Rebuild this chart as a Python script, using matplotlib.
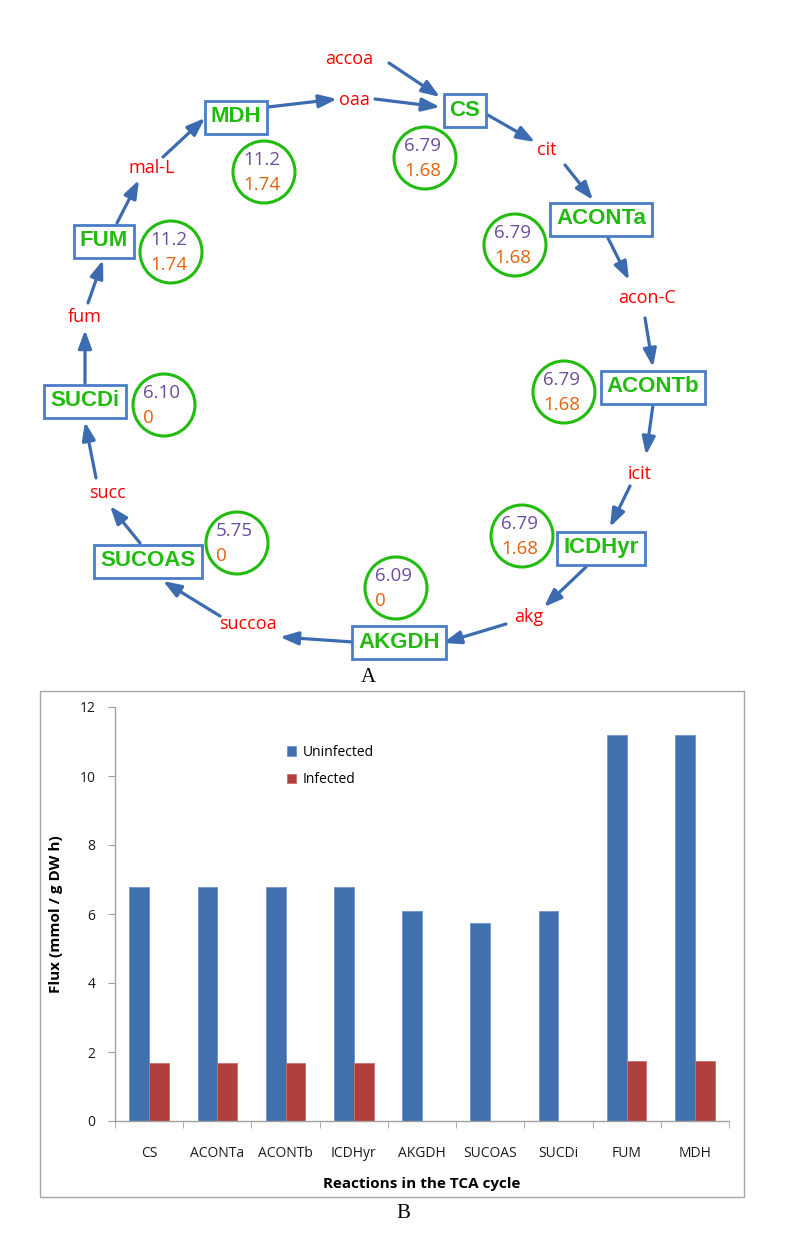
import matplotlib
matplotlib.use('Agg')
import matplotlib.pyplot as plt
from matplotlib.patches import Circle, Rectangle
import numpy as np

# ---------------- data ----------------
reactions = ['CS', 'ACONTa', 'ACONTb', 'ICDHyr', 'AKGDH', 'SUCOAS', 'SUCDi', 'FUM', 'MDH']
uninfected = [6.79, 6.79, 6.79, 6.79, 6.09, 5.75, 6.10, 11.2, 11.2]
infected = [1.68, 1.68, 1.68, 1.68, 0, 0, 0, 1.74, 1.74]
series_names = ['Uninfected', 'Infected']
yticks = [0, 2, 4, 6, 8, 10, 12]
metabolites = ['accoa', 'oaa', 'cit', 'acon-C', 'icit', 'akg', 'succoa', 'succ', 'fum', 'mal-L']

# ---------------- layout (pixel coordinates of the diagram) ----------------
box_pos = {'CS': (465, 110), 'ACONTa': (601, 219), 'ACONTb': (653, 387), 'ICDHyr': (601, 548),
           'AKGDH': (399, 642), 'SUCOAS': (148, 561), 'SUCDi': (85, 401), 'FUM': (104, 241),
           'MDH': (236, 117)}
circle_pos = {'CS': (425, 158), 'ACONTa': (515, 245), 'ACONTb': (564, 392), 'ICDHyr': (522, 536),
              'AKGDH': (396, 588), 'SUCOAS': (237, 543), 'SUCDi': (164, 405), 'FUM': (171, 252),
              'MDH': (264, 172)}
met_pos = {'accoa': (349, 59), 'oaa': (354, 100), 'cit': (547, 150), 'acon-C': (647, 298),
           'icit': (640, 474), 'akg': (529, 617), 'succoa': (248, 624), 'succ': (108, 493),
           'fum': (85, 317), 'mal-L': (152, 168)}
arrow_segs = [((389, 63), (440, 97)), ((375, 99), (440, 107)), ((486, 114), (535, 142)),
              ((565, 165), (593, 200)), ((608, 238), (629, 280)), ((645, 318), (653, 367)),
              ((653, 405), (646, 455)), ((630, 486), (610, 527)), ((586, 567), (544, 607)),
              ((506, 624), (443, 643)), ((353, 642), (280, 637)), ((220, 616), (163, 581)),
              ((140, 543), (110, 506)), ((96, 478), (85, 422)), ((85, 383), (85, 330)),
              ((88, 303), (103, 260)), ((117, 223), (139, 180)), ((163, 157), (205, 118)),
              ((268, 107), (337, 99))]

W, H = 792, 1260
fig = plt.figure(figsize=(W / 100, H / 100), dpi=100)
fig.patch.set_facecolor('white')

BLUE_BOX = '#4A7CC7'
ARROW = '#3D6BB0'
GREEN = '#22BB10'
PURPLE = '#6A4F9C'
ORANGE = '#E2630F'
RED = '#FF0000'
SANS = ['Open Sans', 'DejaVu Sans']

# ---------------- diagram ----------------
dax = fig.add_axes([0, 0, 1, 1])
dax.set_xlim(0, W)
dax.set_ylim(H, 0)
dax.axis('off')


def fmt_u(v):
    return f"{v:.1f}" if v >= 10 else f"{v:.2f}"


def fmt_i(v):
    return "0" if v == 0 else f"{v:.2f}"


for (x0, y0), (x1, y1) in arrow_segs:
    dax.annotate('', xy=(x1, y1), xytext=(x0, y0),
                 arrowprops=dict(arrowstyle='-|>,head_length=0.6,head_width=0.22',
                                 color=ARROW, lw=2.3, mutation_scale=18,
                                 shrinkA=0, shrinkB=0))

for name in metabolites:
    x, y = met_pos[name]
    dax.text(x, y, name, color=RED, fontsize=13, family=SANS, ha='center', va='center')

for i, r in enumerate(reactions):
    bx, by = box_pos[r]
    dax.text(bx, by, r, color=GREEN, fontsize=16, fontweight='bold',
             family=['Liberation Sans', 'DejaVu Sans'], ha='center', va='center',
             bbox=dict(boxstyle='square,pad=0.27', fc='white', ec=BLUE_BOX, lw=2.0))
    cx, cy = circle_pos[r]
    dax.add_patch(Circle((cx, cy), 31, fill=False, ec=GREEN, lw=2.2))
    dax.text(cx - 21, cy - 12, fmt_u(uninfected[i]), color=PURPLE, fontsize=13.5,
             family=SANS, ha='left', va='center')
    dax.text(cx - 21, cy + 13, fmt_i(infected[i]), color=ORANGE, fontsize=13.5,
             family=SANS, ha='left', va='center')

dax.text(368, 678, 'A', fontsize=15, family=['Liberation Serif', 'DejaVu Serif'],
         ha='center', va='center')
dax.text(403, 1213, 'B', fontsize=15, family=['Liberation Serif', 'DejaVu Serif'],
         ha='center', va='center')

# outer chart frame
dax.add_patch(Rectangle((40, 691), 704, 506, fill=False, ec='#A6A6A6', lw=1.0))

# ---------------- bar chart ----------------
ax = fig.add_axes([115 / W, 1 - 1121 / H, (729 - 115) / W, (1121 - 707) / H])
x = np.arange(len(reactions))
bw = 0.29
ax.bar(x - bw / 2, uninfected, bw, color='#4170AF', edgecolor='#6F93C8', lw=0.6,
       label=series_names[0])
ax.bar(x + bw / 2, infected, bw, color='#B0403D', edgecolor='#C86F6C', lw=0.6,
       label=series_names[1])
ax.set_xlim(-0.5, len(reactions) - 0.5)
ax.set_ylim(0, 12)
ax.set_yticks(yticks)
ax.set_yticklabels([str(t) for t in yticks])
ax.set_xticks(x)
ax.set_xticklabels(reactions)
ax.set_xticks(np.arange(-0.5, len(reactions)), minor=True)
ax.tick_params(axis='x', which='major', length=0, pad=18)
ax.tick_params(axis='x', which='minor', length=5, color='#A0A0A0', direction='out')
ax.tick_params(axis='y', length=5, color='#A0A0A0', direction='out', pad=9)
for lab in ax.get_xticklabels() + ax.get_yticklabels():
    lab.set_family(SANS)
    lab.set_fontsize(10)
    lab.set_color('#1A1A1A')
for s in ['top', 'right']:
    ax.spines[s].set_visible(False)
for s in ['left', 'bottom']:
    ax.spines[s].set_color('#A0A0A0')
    ax.spines[s].set_linewidth(1.0)
ax.set_facecolor('none')

ax.set_xlabel('Reactions in the TCA cycle', fontsize=11, fontweight='bold', family=SANS)
ax.xaxis.set_label_coords(0.5, (1121 - 1177) / (1121 - 707))
ax.set_ylabel('Flux (mmol / g DW h)', fontsize=11, fontweight='bold', family=SANS)
ax.yaxis.set_label_coords((63 - 115) / (729 - 115), 0.5)

leg = ax.legend(loc='upper left', bbox_to_anchor=((287 - 115) / 614, (1121 - 745) / 414),
                frameon=False, prop={'family': SANS, 'size': 10},
                handlelength=0.65, handleheight=0.65, handletextpad=0.5,
                labelspacing=0.9, borderaxespad=0, borderpad=0)

fig.savefig('out.png', dpi=100, facecolor='white')
